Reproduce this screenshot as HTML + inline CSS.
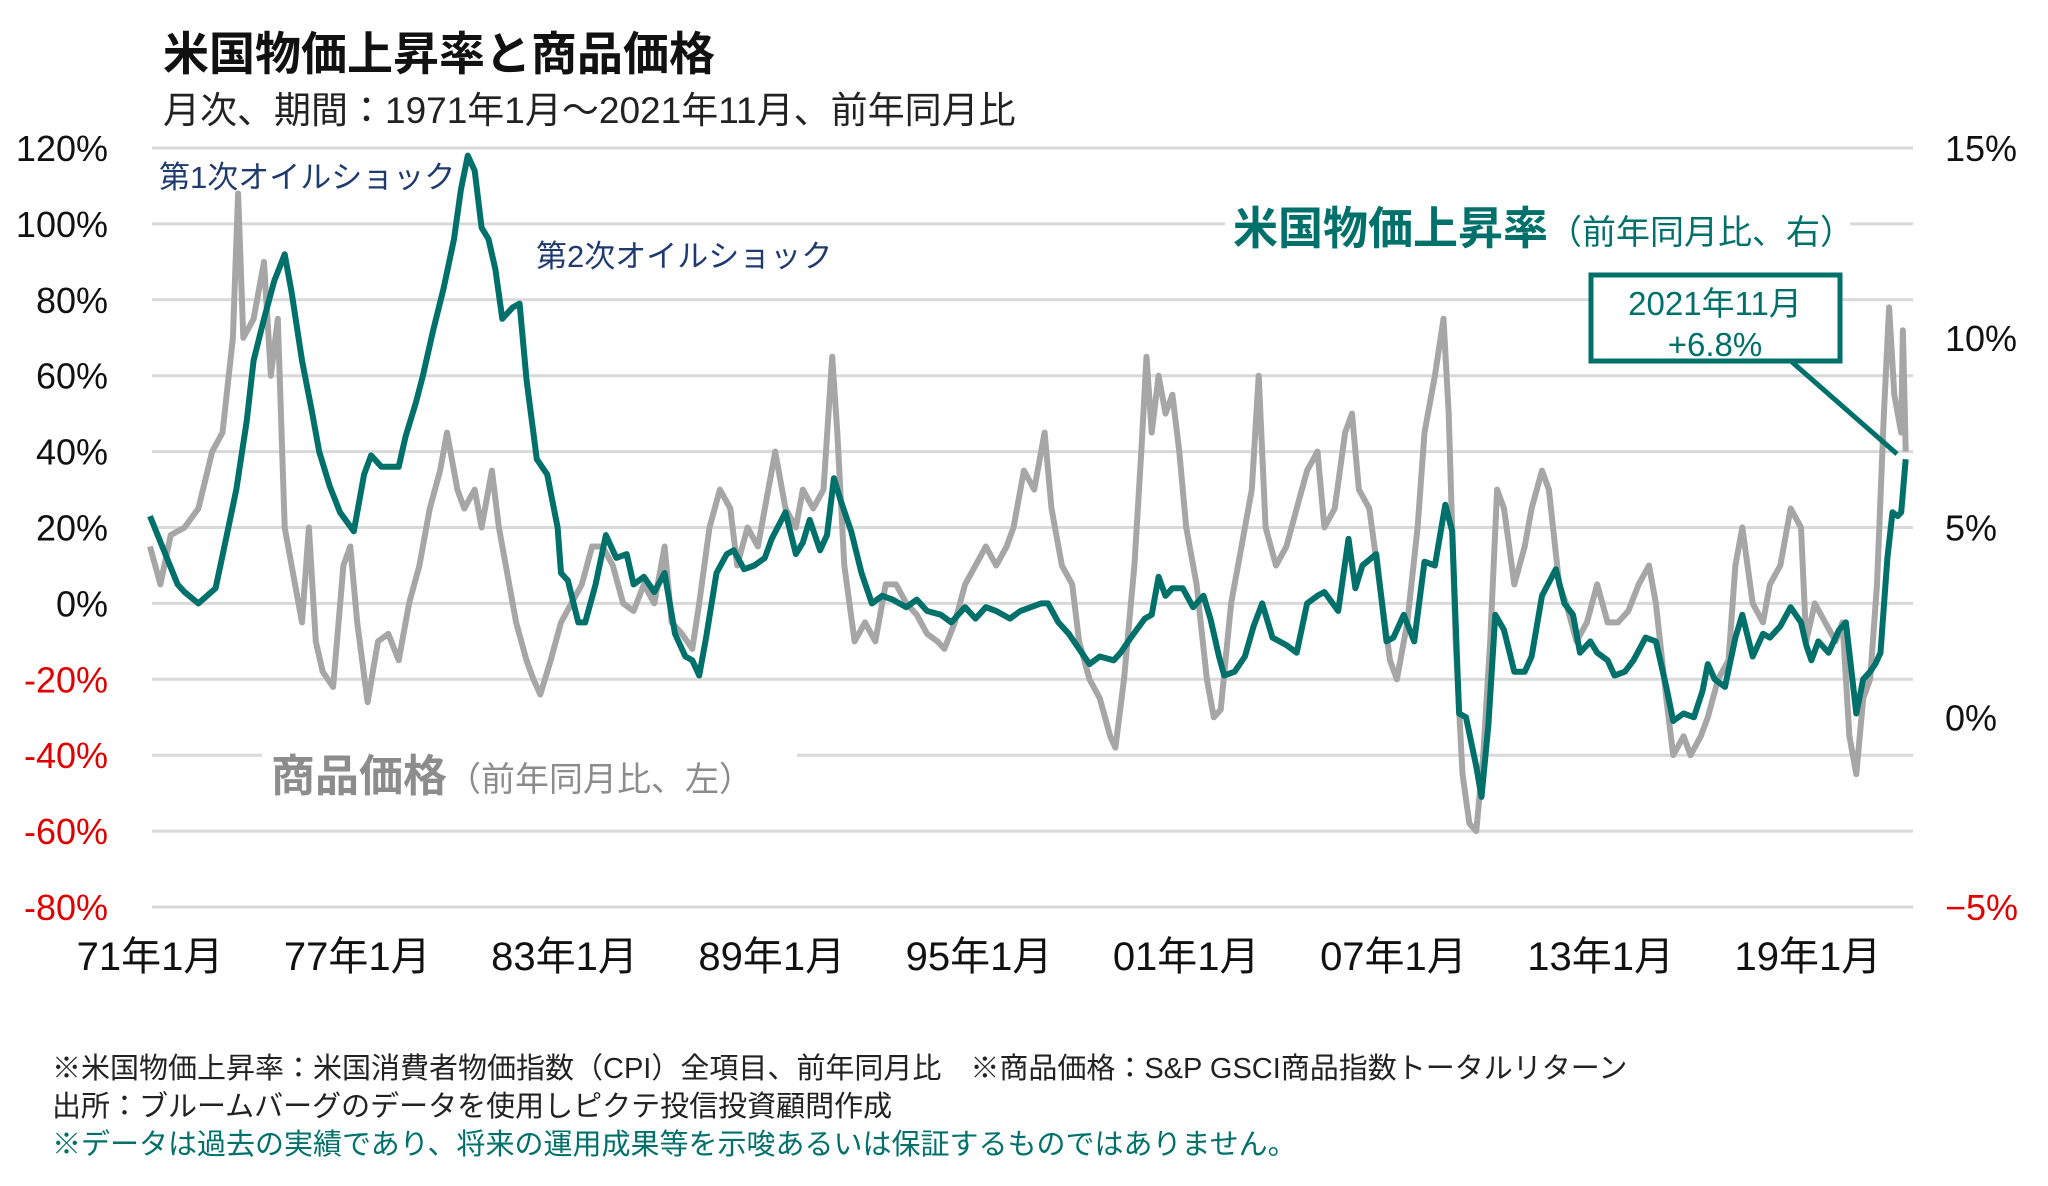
<!DOCTYPE html>
<html><head><meta charset="utf-8">
<style>
html,body{margin:0;padding:0;background:#fff;}
body{width:2048px;height:1181px;overflow:hidden;font-family:"Liberation Sans","Noto Sans CJK JP",sans-serif;}
svg text{font-family:"Liberation Sans","Noto Sans CJK JP",sans-serif;}
</style></head>
<body>
<svg id="chart" width="2048" height="1181" viewBox="0 0 2048 1181" xmlns="http://www.w3.org/2000/svg">
<text x="163" y="70" font-size="46" font-weight="bold" fill="#111">米国物価上昇率と商品価格</text>
<text x="163" y="123" font-size="37" fill="#222">月次、期間：1971年1月～2021年11月、前年同月比</text>
<g id="grid"></g>
<g id="yleft"></g>
<g id="yright"></g>
<g id="xaxis"></g>
<rect x="1225" y="200" width="625" height="55" fill="#fff"/>
<rect x="262" y="740" width="535" height="50" fill="#fff"/>
<g id="series"></g>
<text x="159" y="188" font-size="31" fill="#1f3a6e">第1次オイルショック</text>
<text x="536" y="267" font-size="31" fill="#1f3a6e">第2次オイルショック</text>
<text x="1233" y="244" fill="#00706b"><tspan font-size="45" font-weight="bold">米国物価上昇率</tspan><tspan font-size="34">（前年同月比、右）</tspan></text>
<text x="271" y="791" fill="#8c8c8c"><tspan font-size="44" font-weight="bold">商品価格</tspan><tspan font-size="34">（前年同月比、左）</tspan></text>
<line x1="1792" y1="362" x2="1897" y2="454" stroke="#00706b" stroke-width="5"/>
<rect x="1591" y="275" width="249" height="86" fill="#fff" stroke="#00706b" stroke-width="5"/>
<text x="1715" y="315" font-size="33" fill="#00706b" text-anchor="middle">2021年11月</text>
<text x="1715" y="356" font-size="33" fill="#00706b" text-anchor="middle">+6.8%</text>
<text x="52" y="1078" font-size="29" fill="#222">※米国物価上昇率：米国消費者物価指数（CPI）全項目、前年同月比　※商品価格：S&amp;P GSCI商品指数トータルリターン</text>
<text x="52" y="1116" font-size="29" fill="#222">出所：ブルームバーグのデータを使用しピクテ投信投資顧問作成</text>
<text x="52" y="1154" font-size="29" fill="#00706b">※データは過去の実績であり、将来の運用成果等を示唆あるいは保証するものではありません。</text>
</svg>
<script>
const leftTicks=[120,100,80,60,40,20,0,-20,-40,-60,-80];
const rightTicks=[15,10,5,0,-5];
const xTickYears=[1971,1977,1983,1989,1995,2001,2007,2013,2019];
const xTickLabels=["71年1月","77年1月","83年1月","89年1月","95年1月","01年1月","07年1月","13年1月","19年1月"];
const gsciDates=[1971.0,1971.3,1971.6,1972.0,1972.4,1972.8,1973.1,1973.4,1973.55,1973.7,1974.0,1974.3,1974.5,1974.7,1974.9,1975.1,1975.4,1975.6,1975.8,1976.0,1976.3,1976.6,1976.8,1977.0,1977.3,1977.6,1977.9,1978.2,1978.5,1978.8,1979.1,1979.4,1979.6,1979.9,1980.1,1980.4,1980.6,1980.9,1981.1,1981.3,1981.6,1981.9,1982.1,1982.3,1982.6,1982.9,1983.2,1983.5,1983.8,1984.1,1984.4,1984.7,1985.0,1985.3,1985.6,1985.9,1986.1,1986.4,1986.7,1986.9,1987.2,1987.5,1987.8,1988.0,1988.3,1988.6,1988.9,1989.1,1989.4,1989.7,1989.9,1990.2,1990.5,1990.75,1990.9,1991.1,1991.4,1991.7,1992.0,1992.3,1992.6,1992.9,1993.2,1993.5,1993.8,1994.0,1994.3,1994.6,1994.9,1995.2,1995.5,1995.8,1996.0,1996.3,1996.6,1996.9,1997.1,1997.4,1997.7,1997.9,1998.2,1998.5,1998.8,1998.95,1999.2,1999.5,1999.7,1999.85,2000.0,2000.2,2000.4,2000.6,2000.8,2001.0,2001.3,2001.6,2001.8,2002.0,2002.3,2002.6,2002.9,2003.1,2003.3,2003.6,2003.9,2004.2,2004.5,2004.8,2005.0,2005.3,2005.6,2005.8,2006.0,2006.3,2006.6,2006.9,2007.1,2007.4,2007.7,2007.9,2008.2,2008.45,2008.6,2008.8,2009.0,2009.2,2009.4,2009.6,2009.8,2010.0,2010.2,2010.5,2010.8,2011.0,2011.3,2011.5,2011.8,2012.0,2012.3,2012.6,2012.9,2013.2,2013.5,2013.8,2014.1,2014.4,2014.6,2014.9,2015.1,2015.4,2015.6,2015.9,2016.1,2016.4,2016.7,2016.9,2017.1,2017.4,2017.7,2017.9,2018.2,2018.5,2018.8,2018.95,2019.2,2019.5,2019.8,2020.0,2020.2,2020.4,2020.6,2020.8,2021.0,2021.2,2021.35,2021.5,2021.7,2021.75,2021.83];
const gsciValues=[15,5,18,20,25,40,45,70,108,70,75,90,60,75,20,10,-5,20,-10,-18,-22,10,15,-5,-26,-10,-8,-15,0,10,25,35,45,30,25,30,20,35,20,10,-5,-15,-20,-24,-15,-5,0,5,15,15,10,0,-2,5,0,15,-5,-8,-12,0,20,30,25,10,20,15,30,40,25,20,30,25,30,65,45,10,-10,-5,-10,5,5,0,-3,-8,-10,-12,-5,5,10,15,10,15,20,35,30,45,25,10,5,-10,-20,-25,-35,-38,-20,10,40,65,45,60,50,55,40,20,5,-20,-30,-28,0,15,30,60,20,10,15,25,35,40,20,25,45,50,30,25,5,-15,-20,-5,20,45,60,75,50,-10,-45,-58,-60,-40,-10,30,25,5,15,25,35,30,5,0,-10,-5,5,-5,-5,-2,5,10,0,-25,-40,-35,-40,-35,-30,-20,-15,10,20,0,-5,5,10,25,20,-10,0,-5,-10,-5,-35,-45,-25,-20,5,50,78,55,45,72,40];
const cpiDates=[1971.0,1971.4,1971.8,1972.0,1972.4,1972.9,1973.2,1973.5,1973.8,1974.0,1974.3,1974.6,1974.9,1975.1,1975.4,1975.7,1975.9,1976.2,1976.5,1976.9,1977.2,1977.4,1977.7,1977.9,1978.2,1978.4,1978.7,1978.9,1979.2,1979.5,1979.8,1980.0,1980.2,1980.4,1980.6,1980.8,1981.0,1981.2,1981.5,1981.7,1981.9,1982.2,1982.5,1982.8,1982.9,1983.1,1983.4,1983.6,1983.9,1984.2,1984.5,1984.8,1985.0,1985.3,1985.6,1985.9,1986.2,1986.5,1986.7,1986.9,1987.1,1987.4,1987.7,1987.9,1988.2,1988.5,1988.8,1989.0,1989.4,1989.7,1989.9,1990.1,1990.4,1990.6,1990.8,1991.0,1991.3,1991.6,1991.9,1992.2,1992.5,1992.9,1993.2,1993.5,1993.9,1994.2,1994.6,1994.9,1995.2,1995.5,1995.9,1996.2,1996.5,1996.8,1997.0,1997.3,1997.6,1997.9,1998.2,1998.5,1998.9,1999.1,1999.4,1999.8,2000.0,2000.2,2000.4,2000.6,2000.9,2001.2,2001.5,2001.7,2001.95,2002.1,2002.4,2002.7,2002.95,2003.2,2003.5,2003.9,2004.2,2004.5,2004.8,2005.0,2005.4,2005.7,2005.9,2006.1,2006.5,2006.8,2007.0,2007.3,2007.6,2007.9,2008.2,2008.5,2008.7,2008.9,2009.1,2009.4,2009.55,2009.75,2009.95,2010.2,2010.5,2010.8,2011.0,2011.3,2011.7,2011.95,2012.2,2012.4,2012.7,2012.9,2013.2,2013.4,2013.7,2013.95,2014.3,2014.6,2014.9,2015.1,2015.4,2015.7,2015.95,2016.1,2016.3,2016.6,2016.9,2017.1,2017.4,2017.7,2017.9,2018.2,2018.5,2018.8,2018.95,2019.1,2019.3,2019.6,2019.9,2020.1,2020.4,2020.6,2020.8,2020.95,2021.1,2021.3,2021.45,2021.6,2021.7,2021.83];
const cpiValues=[5.3,4.4,3.5,3.3,3.0,3.4,4.7,6.0,7.8,9.4,10.5,11.5,12.2,11.2,9.4,8.0,7.0,6.1,5.4,4.9,6.4,6.9,6.6,6.6,6.6,7.4,8.3,9.0,10.2,11.3,12.6,13.9,14.8,14.4,12.9,12.6,11.8,10.5,10.8,10.9,8.9,6.8,6.4,5.0,3.8,3.6,2.5,2.5,3.5,4.8,4.2,4.3,3.5,3.7,3.3,3.8,2.2,1.6,1.5,1.1,2.1,3.8,4.3,4.4,3.9,4.0,4.2,4.7,5.4,4.3,4.6,5.2,4.4,4.8,6.3,5.7,4.9,3.8,3.0,3.2,3.1,2.9,3.1,2.8,2.7,2.5,2.9,2.6,2.9,2.8,2.6,2.8,2.9,3.0,3.0,2.5,2.2,1.8,1.4,1.6,1.5,1.7,2.1,2.6,2.7,3.7,3.2,3.4,3.4,2.9,3.2,2.6,1.6,1.1,1.2,1.6,2.4,3.0,2.1,1.9,1.7,3.0,3.2,3.3,2.8,4.7,3.4,4.0,4.3,2.0,2.1,2.7,2.0,4.1,4.0,5.6,4.9,0.1,0.0,-1.3,-2.1,-0.2,2.7,2.3,1.2,1.2,1.6,3.2,3.9,3.0,2.7,1.7,2.0,1.7,1.5,1.1,1.2,1.5,2.1,2.0,0.8,-0.1,0.1,0.0,0.7,1.4,1.0,0.8,2.1,2.7,1.6,2.2,2.1,2.4,2.9,2.5,1.9,1.5,2.0,1.7,2.3,2.5,0.1,1.0,1.2,1.4,1.7,4.2,5.4,5.3,5.4,6.8];

const NS="http://www.w3.org/2000/svg";
const X0=152, X1=1913, Y_TOP=148, Y_BOT=907;
function xScale(yr){return 150+(yr-1971)*34.54;}
function yLeft(v){return Y_TOP+(120-v)*(Y_BOT-Y_TOP)/200;}
function yRight(v){return yLeft(v*10-30);}
function mk(tag,attrs,parent){const e=document.createElementNS(NS,tag);for(const k in attrs)e.setAttribute(k,attrs[k]);parent.appendChild(e);return e;}

const grid=document.getElementById('grid');
leftTicks.forEach(v=>{
  const l=mk('line',{x1:X0,x2:X1,y1:yLeft(v),y2:yLeft(v),stroke:'#d9d9d9','stroke-width':3},grid);
  
  
});
const yl=document.getElementById('yleft');
leftTicks.forEach(v=>{
  const t=mk('text',{x:108,y:yLeft(v)+13,'font-size':36,'text-anchor':'end',fill:v<0?'#e00000':'#111'},yl);
  t.textContent=v+'%';
  
  
});
const yr=document.getElementById('yright');
rightTicks.forEach(v=>{
  const t=mk('text',{x:1945,y:yRight(v)+13,'font-size':36,fill:v<0?'#e00000':'#111'},yr);
  t.textContent=(v<0?'−':'')+Math.abs(v)+'%';
  
  
});
const xa=document.getElementById('xaxis');
xTickYears.forEach((y,i)=>{
  const t=mk('text',{x:xScale(y),y:970,'font-size':40,'text-anchor':'middle',fill:'#111'},xa);
  t.textContent=xTickLabels[i];
  
  
});
const s=document.getElementById('series');
const gp=mk('polyline',{points:gsciDates.map((d,i)=>xScale(d).toFixed(1)+','+yLeft(gsciValues[i]).toFixed(1)).join(' '),fill:'none',stroke:'#a6a6a6','stroke-width':6,'stroke-linejoin':'round'},s);


const cp=mk('polyline',{points:cpiDates.map((d,i)=>xScale(d).toFixed(1)+','+yRight(cpiValues[i]).toFixed(1)).join(' '),fill:'none',stroke:'#00706b','stroke-width':6,'stroke-linejoin':'round'},s);


</script>
</body></html>
